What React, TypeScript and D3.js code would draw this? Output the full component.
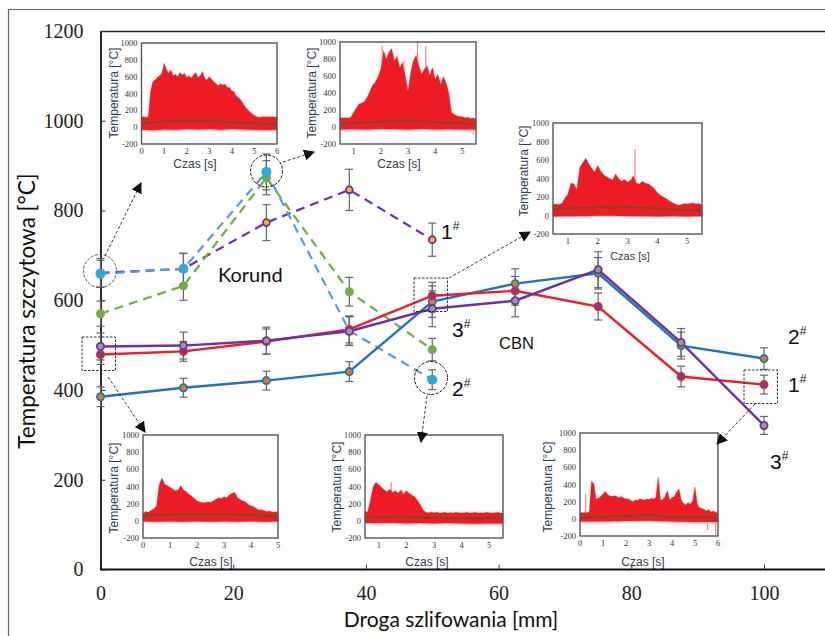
import { useRef, useEffect } from 'react'
import * as d3 from 'd3'

// Main chart values
const distance = [0, 12.5, 25, 37.5, 50, 62.5, 75, 87.5, 100]
const korundDistance = [0, 12.5, 25, 37.5, 50]
const yTicks = [0, 200, 400, 600, 800, 1000, 1200]
const xTicks = [0, 20, 40, 60, 80, 100]

const cbn1 = [479, 486, 508, 535, 610, 621, 586, 430, 412]
const cbn1Err = [22, 22, 28, 30, 30, 32, 30, 23, 21]
const cbn2 = [385, 405, 421, 441, 597, 637, 660, 499, 470]
const cbn2Err = [22, 21, 21, 22, 35, 33, 35, 30, 24]
const cbn3 = [497, 499, 510, 531, 581, 599, 668, 506, 321]
const cbn3Err = [30, 30, 30, 32, 40, 36, 40, 31, 20]
const korund1 = [661, 670, 773, 846, 735]
const korund1Err = [32, 35, 40, 46, 37]
const korund2 = [659, 670, 886, 532, 423]
const korund2Err = [30, 34, 40, 32, 22]
const korund3 = [570, 632, 873, 619, 490]
const korund3Err = [28, 32, 38, 32, 25]

// Temperature traces in the small plots, upper envelope read every 0.1 s
const upperA = [120, 125, 115, 125, 420, 540, 560, 590, 610, 640, 760, 690, 640, 680, 610, 630, 600, 650, 620, 640, 590, 610, 585, 620, 650, 590, 610, 660, 580, 560, 600, 570, 540, 520, 490, 520, 500, 510, 470, 470, 430, 420, 370, 350, 320, 280, 240, 210, 180, 160, 140, 125, 115, 120, 125, 120, 125, 120, 125, 120, 120]
const lowerTimeA = [0, 0.5, 1, 1.5, 2, 2.5, 3, 3.5, 4, 4.5, 5, 5.5, 6]
const lowerA = [-40, -50, -35, -40, -30, -35, -30, -40, -30, -35, -40, -45, -40]
const meanTimeA = [0, 1, 2, 3, 4, 5, 6]
const meanA = [45, 70, 75, 72, 60, 45, 40]

const upperB = [110, 105, 110, 105, 115, 170, 220, 270, 280, 300, 350, 420, 490, 530, 590, 680, 900, 800, 880, 920, 780, 830, 700, 760, 600, 420, 640, 780, 840, 720, 620, 680, 720, 610, 700, 560, 620, 500, 590, 520, 400, 170, 150, 130, 125, 120, 110, 115, 100, 105, 95]
const lowerTimeB = [0.5, 1, 1.5, 2, 2.5, 3, 3.5, 4, 4.5, 5, 5.5]
const lowerB = [-40, -35, -40, -30, -35, -40, -30, -40, -35, -40, -40]
const meanTimeB = [0.5, 1.5, 2.5, 3.5, 4.5, 5.5]
const meanB = [40, 55, 70, 65, 50, 35]
const spikeTimeB = [2.05, 2.85, 3.35, 3.65, 5.4]
const spikeB = [960, 780, 1000, 950, -90]

const upperC = [120, 125, 120, 130, 190, 230, 350, 340, 280, 520, 570, 620, 560, 510, 470, 540, 480, 440, 420, 400, 380, 450, 400, 370, 390, 360, 380, 430, 350, 340, 370, 350, 340, 320, 290, 250, 220, 200, 180, 160, 140, 125, 110, 115, 130, 125, 130, 135, 125, 130, 115]
const lowerTimeC = [0.5, 1, 1.5, 2, 2.5, 3, 3.5, 4, 4.5, 5, 5.5]
const lowerC = [-15, -10, -10, -5, -5, -10, -10, -15, -10, -15, -10]
const meanTimeC = [0.5, 1.5, 2.5, 3.5, 4.5, 5.5]
const meanC = [70, 85, 95, 85, 65, 55]
const spikeTimeC = [3.25]
const spikeC = [720]

const upperD = [80, 110, 100, 120, 140, 170, 420, 500, 430, 410, 390, 370, 350, 360, 410, 360, 340, 310, 290, 260, 230, 220, 215, 210, 220, 215, 230, 250, 270, 260, 280, 270, 300, 320, 330, 270, 250, 230, 220, 190, 175, 165, 140, 125, 130, 115, 110, 115, 100, 105, 100]
const lowerTimeD = [0, 0.5, 1, 1.5, 2, 2.5, 3, 3.5, 4, 4.5, 5]
const lowerD = [-10, -15, -10, -15, -10, -15, -10, -15, -10, -15, -10]
const meanTimeD = [0, 1, 2, 3, 4, 5]
const meanD = [60, 75, 80, 80, 65, 55]

const upperE = [110, 105, 250, 400, 450, 420, 390, 360, 340, 370, 330, 350, 320, 360, 310, 350, 320, 300, 280, 240, 190, 130, 100, 95, 100, 95, 100, 90, 95, 100, 90, 95, 90, 100, 95, 90, 95, 100, 90, 95, 100, 90, 95, 90, 100, 95, 90, 95, 100, 90, 90]
const lowerTimeE = [0.5, 1, 1.5, 2, 2.5, 3, 3.5, 4, 4.5, 5, 5.5]
const lowerE = [-35, -35, -30, -40, -35, -40, -35, -40, -45, -40, -40]
const meanTimeE = [0.5, 1, 2, 3, 4, 5.5]
const meanE = [40, 50, 45, 35, 30, 30]
const spikeTimeE = [1.45]
const spikeE = [450]

const upperF = [70, 70, 75, 70, 80, 440, 410, 230, 240, 260, 290, 320, 280, 270, 260, 270, 260, 245, 260, 240, 235, 230, 215, 200, 220, 215, 235, 225, 220, 230, 225, 240, 235, 250, 490, 220, 225, 260, 330, 220, 250, 260, 310, 350, 220, 180, 160, 190, 170, 210, 370, 170, 130, 120, 110, 90, 110, 80, 90, 75, 70]
const lowerTimeF = [0, 1, 2, 3, 4, 5, 6]
const lowerF = [-40, -40, -35, -30, -40, -50, -50]
const meanTimeF = [0, 1, 2, 3, 4, 5, 6]
const meanF = [15, 25, 35, 40, 25, 20, 15]
const spikeTimeF = [0.25, 5.55, 5.9]
const spikeF = [290, -130, -190]

const tempTicks = [-200, 0, 200, 400, 600, 800, 1000]
const yTitle = 'Temperatura szczytowa [°C]'
const xTitle = 'Droga szlifowania [mm]'
const insetY = 'Temperatura [°C]'
const insetX = 'Czas [s]'

const SERIF = '"Liberation Serif", serif'
const SANS = 'Lato, sans-serif'
const ARIAL = '"Liberation Sans", sans-serif'

function drawInset(root, o) {
  const x = d3.scaleLinear().domain(o.domain).range([o.left, o.right])
  const y = d3.scaleLinear().domain([-200, 1000]).range([o.bottom, o.top])
  const g = root.append('g')
  const line = d3.line().x(d => x(d[0])).y(d => y(d[1]))

  const upperPts = o.upper.map((v, i) => [o.domain[0] + i * 0.1, v])
  const lowerPts = o.lowerTime.map((t, i) => [t, o.lower[i]]).reverse()
  const solidPts = o.lowerTime.map((t, i) => [t, o.lower[i] * 0.75]).reverse()

  if (o.spikeTime) {
    o.spikeTime.forEach((t, i) => {
      g.append('line')
        .attr('x1', x(t)).attr('x2', x(t))
        .attr('y1', y(50)).attr('y2', y(o.spike[i]))
        .attr('stroke', '#e58a90')
        .attr('stroke-width', 1.2)
    })
  }

  // faint fringe round the trace, then the solid band
  g.append('path')
    .attr('d', line([...upperPts, ...lowerPts]) + 'Z')
    .attr('fill', '#f7b5b8')
    .attr('stroke', '#f7b5b8')
    .attr('stroke-width', 1)
  g.append('path')
    .attr('d', line([...upperPts, ...solidPts]) + 'Z')
    .attr('fill', '#ee1c25')

  g.append('path')
    .attr('d', d3.line().x(d => x(d[0])).y(d => y(d[1])).curve(d3.curveMonotoneX)(o.meanTime.map((t, i) => [t, o.mean[i]])))
    .attr('fill', 'none')
    .attr('stroke', '#7a4a1e')
    .attr('stroke-width', 1.8)

  g.append('rect')
    .attr('x', o.left).attr('y', o.top)
    .attr('width', o.right - o.left).attr('height', o.bottom - o.top)
    .attr('fill', 'none')
    .attr('stroke', '#555')
    .attr('stroke-width', 1.4)

  tempTicks.forEach(t => {
    g.append('text')
      .attr('x', o.left - 4).attr('y', y(t) + 3)
      .attr('text-anchor', 'end')
      .attr('font-family', SERIF).attr('font-size', 8.5).attr('fill', '#333')
      .text(t)
  })
  o.xTicks.forEach(t => {
    g.append('text')
      .attr('x', x(t)).attr('y', o.bottom + 10)
      .attr('text-anchor', 'middle')
      .attr('font-family', SERIF).attr('font-size', 8.5).attr('fill', '#333')
      .text(t)
  })

  g.append('text')
    .attr('x', o.czasX).attr('y', o.czasY)
    .attr('text-anchor', 'middle')
    .attr('font-family', ARIAL).attr('font-size', o.czasSize || 12).attr('fill', '#2e3d4f')
    .text(insetX)
  g.append('text')
    .attr('transform', `translate(${o.titleX},${o.titleY}) rotate(-90)`)
    .attr('text-anchor', 'middle')
    .attr('font-family', ARIAL).attr('font-size', 12).attr('fill', '#2e3d4f')
    .text(insetY)
}

function App() {
  const svgRef = useRef(null)

  useEffect(() => {
    const svg = d3.select(svgRef.current)
    svg.selectAll('*').remove()

    const x = d3.scaleLinear().domain([0, 100]).range([100.5, 764])
    const y = d3.scaleLinear().domain([0, 1200]).range([569.5, 31])

    // Outer frame
    svg.append('path')
      .attr('d', 'M825,9.5H8.5V636')
      .attr('fill', 'none')
      .attr('stroke', '#666')
      .attr('stroke-width', 1.2)
    svg.append('line')
      .attr('x1', 100.5).attr('x2', 825).attr('y1', 31.5).attr('y2', 31.5)
      .attr('stroke', '#222').attr('stroke-width', 1.6)

    // Axes
    const xAxis = d3.axisBottom(x).tickValues(xTicks).tickFormat(d3.format('d')).tickSizeInner(-5).tickSizeOuter(0).tickPadding(16)
    const gx = svg.append('g').attr('transform', 'translate(0,569.5)').call(xAxis)
    gx.select('.domain').attr('d', 'M100.5,0H825').attr('stroke', '#111').attr('stroke-width', 1.8)
    gx.selectAll('line').attr('stroke', '#333').attr('stroke-width', 1)
    gx.selectAll('text').attr('font-family', SERIF).attr('font-size', 20).attr('fill', '#222')

    const yAxis = d3.axisLeft(y).tickValues(yTicks).tickFormat(d3.format('d')).tickSizeInner(-5).tickSizeOuter(0).tickPadding(17)
    const gy = svg.append('g').attr('transform', 'translate(100.5,0)').call(yAxis)
    gy.select('.domain').attr('stroke', '#111').attr('stroke-width', 1.8)
    gy.selectAll('line').attr('stroke', '#333').attr('stroke-width', 1)
    gy.selectAll('text').attr('font-family', SERIF).attr('font-size', 20).attr('fill', '#222')

    svg.append('text')
      .attr('transform', 'translate(35,311) rotate(-90)')
      .attr('text-anchor', 'middle')
      .attr('font-family', SANS).attr('font-size', 22.5).attr('fill', '#111')
      .text(yTitle)
    svg.append('text')
      .attr('x', 451).attr('y', 627)
      .attr('text-anchor', 'middle')
      .attr('font-family', SANS).attr('font-size', 21).attr('fill', '#111')
      .text(xTitle)

    // Series
    const series = [
      { xs: korundDistance, ys: korund1, err: korund1Err, color: '#7030a0', inner: '#fdb515', dash: '9,6', r: 3.4, hollow: true },
      { xs: korundDistance, ys: korund3, err: korund3Err, color: '#70ad47', inner: '#70ad47', dash: '9,6', r: 4.5 },
      { xs: korundDistance, ys: korund2, err: korund2Err, color: '#5b9bd5', inner: '#29abe2', dash: '9,6', r: 5 },
      { xs: distance, ys: cbn2, err: cbn2Err, color: '#1f75bc', inner: '#e87722', r: 3.6, hollow: true },
      { xs: distance, ys: cbn1, err: cbn1Err, color: '#ee1c2e', inner: '#5a4aa0', r: 3.6, hollow: true },
      { xs: distance, ys: cbn3, err: cbn3Err, color: '#7030a0', inner: '#9a9a9a', r: 3.6, hollow: true },
    ]

    // error bars go underneath everything
    series.forEach(s => {
      s.xs.forEach((d, i) => {
        const px = x(d)
        const hi = y(s.ys[i] + s.err[i])
        const lo = y(s.ys[i] - s.err[i])
        const bar = svg.append('g').attr('stroke', '#666').attr('stroke-width', 1.2)
        bar.append('line').attr('x1', px).attr('x2', px).attr('y1', hi).attr('y2', lo)
        bar.append('line').attr('x1', px - 4).attr('x2', px + 4).attr('y1', hi).attr('y2', hi)
        bar.append('line').attr('x1', px - 4).attr('x2', px + 4).attr('y1', lo).attr('y2', lo)
      })
    })

    series.forEach(s => {
      const line = d3.line().x((d, i) => x(s.xs[i])).y(d => y(d))
      svg.append('path')
        .attr('d', line(s.ys))
        .attr('fill', 'none')
        .attr('stroke', s.color)
        .attr('stroke-width', s.dash ? 2.2 : 2.4)
        .attr('stroke-dasharray', s.dash || null)
    })
    series.forEach(s => {
      s.xs.forEach((d, i) => {
        svg.append('circle')
          .attr('cx', x(d)).attr('cy', y(s.ys[i]))
          .attr('r', s.r)
          .attr('fill', s.inner)
          .attr('stroke', s.hollow ? s.color : 'none')
          .attr('stroke-width', 1.8)
      })
    })

    // Small plots
    drawInset(svg, { left: 141.5, right: 277, top: 43, bottom: 144, domain: [0, 6], xTicks: [0, 1, 2, 3, 4, 5, 6], upper: upperA, lowerTime: lowerTimeA, lower: lowerA, meanTime: meanTimeA, mean: meanA, czasX: 195, czasY: 168, titleX: 118, titleY: 93 })
    drawInset(svg, { left: 340, right: 476, top: 42, bottom: 144, domain: [0.5, 5.5], xTicks: [1, 2, 3, 4, 5], upper: upperB, lowerTime: lowerTimeB, lower: lowerB, meanTime: meanTimeB, mean: meanB, spikeTime: spikeTimeB, spike: spikeB, czasX: 399, czasY: 168, titleX: 316, titleY: 93 })
    drawInset(svg, { left: 553, right: 702, top: 123, bottom: 234, domain: [0.5, 5.5], xTicks: [1, 2, 3, 4, 5], upper: upperC, lowerTime: lowerTimeC, lower: lowerC, meanTime: meanTimeC, mean: meanC, spikeTime: spikeTimeC, spike: spikeC, czasX: 630, czasY: 260, czasSize: 11, titleX: 528, titleY: 171 })
    drawInset(svg, { left: 143, right: 278, top: 435, bottom: 538, domain: [0, 5], xTicks: [0, 1, 2, 3, 4, 5], upper: upperD, lowerTime: lowerTimeD, lower: lowerD, meanTime: meanTimeD, mean: meanD, czasX: 211, czasY: 566, titleX: 118, titleY: 488 })
    drawInset(svg, { left: 365, right: 503, top: 435, bottom: 538, domain: [0.5, 5.5], xTicks: [1, 2, 3, 4, 5], upper: upperE, lowerTime: lowerTimeE, lower: lowerE, meanTime: meanTimeE, mean: meanE, spikeTime: spikeTimeE, spike: spikeE, czasX: 427, czasY: 566, titleX: 341, titleY: 487 })
    drawInset(svg, { left: 580, right: 718, top: 433, bottom: 536, domain: [0, 6], xTicks: [0, 1, 2, 3, 4, 5, 6], upper: upperF, lowerTime: lowerTimeF, lower: lowerF, meanTime: meanTimeF, mean: meanF, spikeTime: spikeTimeF, spike: spikeF, czasX: 643, czasY: 566, titleX: 552, titleY: 487 })

    // Callouts
    const defs = svg.append('defs')
    defs.append('marker')
      .attr('id', 'head')
      .attr('viewBox', '0 0 10 10')
      .attr('refX', 9).attr('refY', 5)
      .attr('markerUnits', 'userSpaceOnUse')
      .attr('markerWidth', 11).attr('markerHeight', 11)
      .attr('orient', 'auto')
      .append('path').attr('d', 'M0,0L10,5L0,10Z').attr('fill', '#111')

    const arrows = [
      [105, 256, 141, 183],
      [283, 162, 314, 152],
      [108, 377, 145, 432],
      [449, 278, 530, 232],
      [427, 396, 421, 442],
      [755, 404, 717, 444],
    ]
    arrows.forEach(a => {
      svg.append('line')
        .attr('x1', a[0]).attr('y1', a[1]).attr('x2', a[2]).attr('y2', a[3])
        .attr('stroke', '#222').attr('stroke-width', 0.9)
        .attr('stroke-dasharray', '3,2')
        .attr('marker-end', 'url(#head)')
    })
    const circles = [[100, 271, 16.5, '#555'], [266.5, 171, 16, '#111'], [431, 378, 16.5, '#111']]
    circles.forEach(c => {
      svg.append('circle')
        .attr('cx', c[0]).attr('cy', c[1]).attr('r', c[2])
        .attr('fill', 'none').attr('stroke', c[3]).attr('stroke-width', 1)
        .attr('stroke-dasharray', '3,1.5')
    })
    const boxes = [[82, 337], [414, 278], [744, 370]]
    boxes.forEach(b => {
      svg.append('rect')
        .attr('x', b[0]).attr('y', b[1]).attr('width', 33.5).attr('height', 33.5)
        .attr('fill', 'none').attr('stroke', '#333').attr('stroke-width', 1)
        .attr('stroke-dasharray', '2.5,1.5')
    })

    // Labels
    const tags = [
      ['1', 441, 239], ['3', 452, 337], ['2', 452, 396],
      ['2', 788, 344], ['1', 788, 392], ['3', 770, 469],
    ]
    tags.forEach(t => {
      const label = svg.append('text')
        .attr('x', t[1]).attr('y', t[2])
        .attr('font-family', ARIAL).attr('font-size', 21).attr('fill', '#111')
      label.append('tspan').text(t[0])
      label.append('tspan').attr('font-size', 12).attr('dy', -9).text('#')
    })
    svg.append('text').attr('x', 218).attr('y', 282)
      .attr('font-family', SANS).attr('font-size', 20).attr('fill', '#111').text('Korund')
    svg.append('text').attr('x', 499).attr('y', 349)
      .attr('font-family', ARIAL).attr('font-size', 16.5).attr('fill', '#111').text('CBN')
  }, [])

  return (
    <svg
      ref={svgRef}
      width={825}
      height={636}
      style={{ position: 'absolute', left: 0, top: 0, background: '#fff' }}
    />
  )
}

export default App
